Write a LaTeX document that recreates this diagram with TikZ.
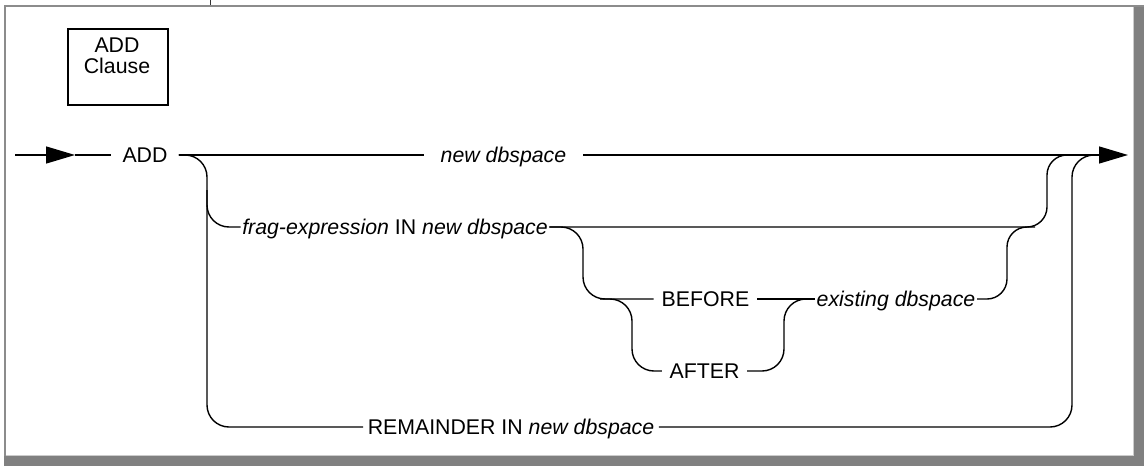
\documentclass[tikz,border=0pt]{standalone}
\usepackage{fontspec}
\setmainfont{Liberation Sans}
\usetikzlibrary{arrows.meta}
\begin{document}
\begin{tikzpicture}[x=1pt,y=-1pt,
  lbl/.style={inner ysep=0pt, text height=18pt, text depth=2.75pt, font=\fontsize{21.3}{21.5}\selectfont},
  rail/.style={line width=1.4pt},
  rr/.style={rail, rounded corners=22pt},
  rs/.style={rail, rounded corners=20pt},
  tipend/.style={-{Triangle[length=29pt,width=17pt]}},
  framel/.style={black!45, line width=2pt},
  shadow/.style={fill=black!50},
]
\useasboundingbox (0,0) rectangle (1146,466);
% frame
\fill[shadow] (1134,5) rectangle (1144,466);
\fill[shadow] (3.5,456) rectangle (1144,466);
\draw[black!20, line width=1pt] (1133.5,6.5) -- (1133.5,455.5) -- (5,455.5);
\draw[framel] (4.5,456) -- (4.5,5.5) -- (1144,5.5);
\draw[line width=1.2pt, black!80] (210.5,0) -- (210.5,4.5);
% title box
\node[draw, line width=2.2pt, minimum width=100pt, minimum height=76pt, inner sep=0pt, anchor=north west] (clause) at (67,28) {};
\node[font=\fontsize{21.3}{21}\selectfont, align=center, inner sep=0pt, anchor=base] (cltext) at (117,73) {ADD\\Clause};
% labels
\node[lbl, inner xsep=11pt] (add) at (145,155) {ADD};
\node[lbl, inner xsep=17pt] (nd) at (503.5,155) {\itshape new dbspace};
\node[lbl, inner xsep=1.5pt] (frag) at (395,227) {\textit{frag-expression} IN \textit{new dbspace}};
\node[lbl, inner xsep=8pt] (before) at (705.5,299) {BEFORE};
\node[lbl, inner xsep=7.5pt] (after) at (704.5,371) {AFTER};
\node[lbl, inner xsep=1.5pt] (exist) at (896,299) {\itshape existing dbspace};
\node[lbl, inner xsep=4.5pt] (rem) at (511,427) {REMAINDER IN \textit{new dbspace}};
% entry / exit
\coordinate (in) at (15,155);
\coordinate (intip) at (75,155);
\coordinate (outtip) at (1128,155);
\draw[rail, tipend] (in) -- (intip);
\draw[rail] (intip) -- (add.west);
\draw[rail] (add.east) -- (nd.west);
\draw[rail, tipend] (nd.east) -- (outtip);
% branches
\draw[rr] (add.east) -- (207,155) -- (207,427) -- (rem.west);
\draw[rr] (207,190) -- (207,227) -- (frag.west);
\draw[rs] (frag.east) -- (1047,227) -- (1047,155) -- (1080,155);
\draw[rr] (frag.east) -- (583,227) -- (583,299) -- (before.west);
\draw[rr] (600,299) -- (632,299) -- (632,371) -- (after.west);
\draw[rail] (before.east) -- (exist.west);
\draw[rr] (after.east) -- (784,371) -- (784,299) -- (exist.west);
\draw[rs] (exist.east) -- (1007,299) -- (1007,227) -- (1035,227);
\draw[rr] (rem.east) -- (1072,427) -- (1072,155) -- (1097,155);
\end{tikzpicture}
\end{document}
